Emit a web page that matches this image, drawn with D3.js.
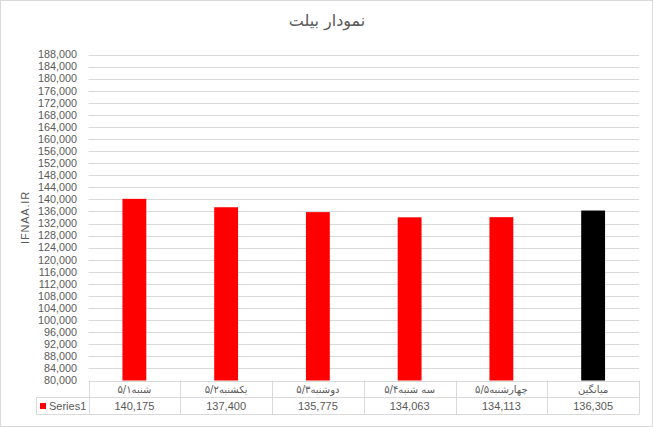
<!DOCTYPE html>
<html><head><meta charset="utf-8">
<script src="https://cdn.jsdelivr.net/npm/d3@7"></script>
<style>
html,body{margin:0;padding:0;background:#fff;}
svg{display:block;}
</style></head>
<body>
<script>
const title = "نمودار بیلت";
const yAxisTitle = "IFNAA.IR";
const seriesName = "Series1";
const categories = ["شنبه۵/۱", "یکشنبه۵/۲", "دوشنبه۵/۳", "سه شنبه۵/۴", "چهارشنبه۵/۵", "میانگین"];
const values = [140175, 137400, 135775, 134063, 134113, 136305];
const barColors = ["#ff0000", "#ff0000", "#ff0000", "#ff0000", "#ff0000", "#000000"];
const yMin = 80000, yMax = 188000, yStep = 4000;

(function () {
const W = 653, H = 427;
const pLeft = 88.5, pRight = 639, pTop = 54.5, pBottom = 380.5;
const tableLeft = 36, catRowBottom = 397, dataRowBottom = 414;
const grid = "#d9d9d9", txt = "#595959";
const latin = "'Liberation Sans', Arial, sans-serif";
const persian = "Tahoma, 'DejaVu Sans', sans-serif";

const svg = d3.select("body").append("svg").attr("width", W).attr("height", H);
svg.append("rect").attr("x", 0.5).attr("y", 0.5).attr("width", W - 1).attr("height", H - 1)
  .attr("fill", "#fff").attr("stroke", grid);

const y = d3.scaleLinear().domain([yMin, yMax]).range([pBottom, pTop]);
const x = d3.scaleBand().domain(categories).range([pLeft, pRight]).padding(0);
const ticks = d3.range(yMin, yMax + 1, yStep);

// gridlines
svg.append("g").selectAll("line").data(ticks).join("line")
  .attr("x1", pLeft).attr("x2", pRight)
  .attr("y1", d => Math.round(y(d)) + 0.5).attr("y2", d => Math.round(y(d)) + 0.5)
  .attr("stroke", grid).attr("stroke-width", 1);

// y tick labels
const fmt = d3.format(",");
svg.append("g").selectAll("text").data(ticks).join("text")
  .attr("x", 77).attr("y", d => y(d)).attr("dy", "0.35em")
  .attr("text-anchor", "end").attr("font-family", latin).attr("font-size", 10.8)
  .attr("fill", txt).text(d => fmt(d));

// bars
const bw = x.bandwidth() * 0.26;
svg.append("g").selectAll("rect").data(values).join("rect")
  .attr("x", (d, i) => x(categories[i]) + x.bandwidth() / 2 - bw / 2)
  .attr("width", bw)
  .attr("y", d => y(d)).attr("height", d => y(yMin) - y(d))
  .attr("fill", (d, i) => barColors[i]);

// table
const tg = svg.append("g").attr("stroke", grid).attr("stroke-width", 1).attr("fill", "none");
tg.append("line").attr("x1", tableLeft).attr("x2", pRight).attr("y1", catRowBottom + 0.5).attr("y2", catRowBottom + 0.5);
tg.append("line").attr("x1", tableLeft).attr("x2", pRight).attr("y1", dataRowBottom + 0.5).attr("y2", dataRowBottom + 0.5);
tg.append("line").attr("x1", tableLeft + 0.5).attr("x2", tableLeft + 0.5).attr("y1", catRowBottom).attr("y2", dataRowBottom + 0.5);
const edges = categories.map(c => x(c)).concat([pRight]);
tg.selectAll("line.v").data(edges).join("line").attr("class", "v")
  .attr("x1", d => Math.round(d) + 0.5).attr("x2", d => Math.round(d) + 0.5)
  .attr("y1", pBottom).attr("y2", dataRowBottom + 0.5);

// category labels
svg.append("g").selectAll("text").data(categories).join("text")
  .attr("x", d => x(d) + x.bandwidth() / 2).attr("y", (pBottom + catRowBottom) / 2 + 1)
  .attr("dy", "0.35em").attr("text-anchor", "middle").attr("direction", "rtl")
  .attr("font-family", persian).attr("font-size", 10).attr("fill", txt).text(d => d);

// data values
svg.append("g").selectAll("text").data(values).join("text")
  .attr("x", (d, i) => x(categories[i]) + x.bandwidth() / 2).attr("y", (catRowBottom + dataRowBottom) / 2 + 0.5)
  .attr("dy", "0.35em").attr("text-anchor", "middle")
  .attr("font-family", latin).attr("font-size", 11).attr("fill", txt).text(d => fmt(d));

// legend key
svg.append("rect").attr("x", 40).attr("y", 403).attr("width", 6).attr("height", 6).attr("fill", barColors[0]);
svg.append("text").attr("x", 49).attr("y", (catRowBottom + dataRowBottom) / 2 + 0.5).attr("dy", "0.35em")
  .attr("font-family", latin).attr("font-size", 11).attr("fill", txt).text(seriesName);

// title
svg.append("text").attr("x", 327).attr("y", 26).attr("text-anchor", "middle").attr("direction", "rtl")
  .attr("font-family", persian).attr("font-size", 16).attr("fill", txt).text(title);

// y axis title
svg.append("text").attr("transform", `translate(29,${(pTop + pBottom) / 2}) rotate(-90)`)
  .attr("text-anchor", "middle").attr("font-family", latin).attr("font-size", 11)
  .attr("letter-spacing", 0.8).attr("fill", txt).text(yAxisTitle);
})();
</script>
</body></html>
